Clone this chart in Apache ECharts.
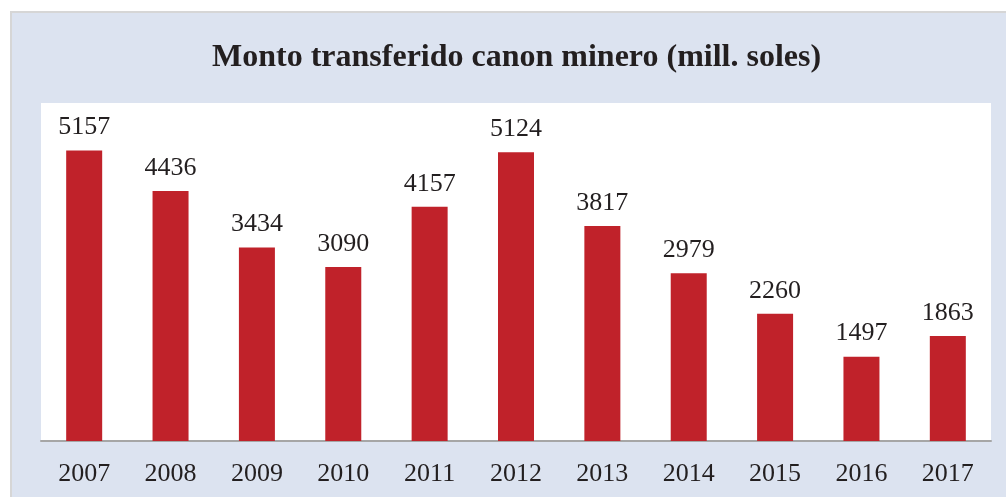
<!DOCTYPE html>
<html><head><meta charset="utf-8">
<script src="https://cdn.jsdelivr.net/npm/echarts@6/dist/echarts.min.js"></script>
<style>html,body{margin:0;padding:0;background:#fff}#c{width:1006px;height:497px}</style>
</head><body><div id="c"></div>
<script>
const titleText = 'Monto transferido canon minero (mill. soles)';
const years = ['2007','2008','2009','2010','2011','2012','2013','2014','2015','2016','2017'];
const amounts = [5157, 4436, 3434, 3090, 4157, 5124, 3817, 2979, 2260, 1497, 1863];

const chart = echarts.init(document.getElementById('c'), null, {renderer:'canvas'});
const font = '"Liberation Serif","Times New Roman",serif';
chart.setOption({
  animation: false,
  backgroundColor: '#ffffff',
  graphic: [
    {type:'rect', shape:{x:11, y:12, width:1010, height:500}, style:{fill:'#dce3f0', stroke:'#d6d6d6', lineWidth:2}, z:-10}
  ],
  title: {
    text: titleText, left: 207, top: 37,
    textStyle: {fontFamily: font, fontWeight: 'bold', fontSize: 32, color: '#231f20'}
  },
  grid: {left: 41, right: 15, top: 103, bottom: 56, show: true, backgroundColor: '#ffffff', borderWidth: 0},
  xAxis: {
    type: 'category', data: years,
    axisLine: {lineStyle: {color: '#a6a6a6', width: 2}},
    axisTick: {show: false},
    axisLabel: {fontFamily: font, fontSize: 26, color: '#231f20', margin: 20}
  },
  yAxis: {
    type: 'value', min: 0, max: 6000, show: false, splitLine: {show: false}
  },
  series: [{
    type: 'bar', data: amounts, barWidth: 36,
    itemStyle: {color: '#c0222a'},
    label: {show: true, position: 'top', distance: 10, fontFamily: font, fontSize: 26, color: '#231f20'}
  }]
});
</script></body></html>
